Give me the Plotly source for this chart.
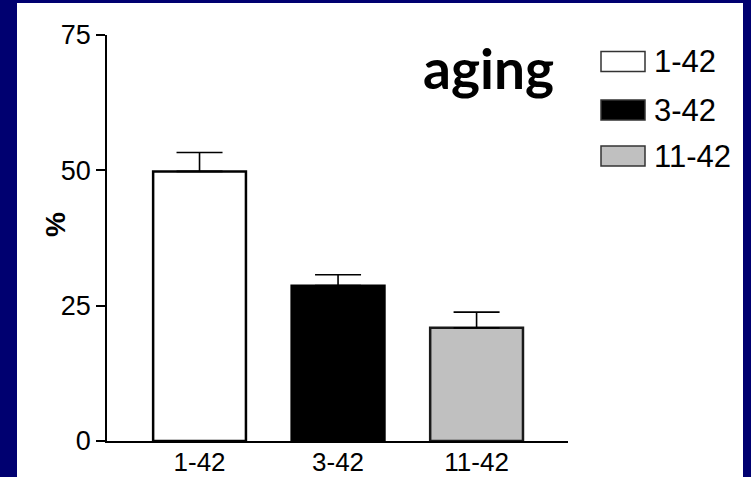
import plotly.graph_objects as go

# Data
categories = ["1-42", "3-42", "11-42"]
values = [49.8, 28.7, 20.9]
errors = [3.5, 2.0, 2.9]
fills = ["#ffffff", "#000000", "#c0c0c0"]
outlines = ["#000000", "#000000", "#1a1a1a"]
y_ticks = [0, 25, 50, 75]

W, H = 751, 477
L, R, T, B = 107, 183, 35, 36
pw, ph = W - L - R, H - T - B


def px(x):
    return (x - L) / pw


def py(y):
    return (H - B - y) / ph


navy = "#000070"
font_main = "Arial, Liberation Sans, sans-serif"

fig = go.Figure()
fig.add_trace(go.Bar(
    x=categories,
    y=values,
    width=0.67,
    marker=dict(color=fills, line=dict(color=outlines, width=2.5)),
    error_y=dict(type="data", array=errors, arrayminus=[0] * len(errors),
                 symmetric=False, color="#000000", thickness=1.6, width=23),
    showlegend=False,
))

shapes = [
    # white slide panel on the navy frame
    dict(type="rect", xref="paper", yref="paper", layer="below",
         x0=px(17), x1=px(743), y0=py(3), y1=py(H + 5),
         fillcolor="#ffffff", line=dict(width=0)),
]
annotations = [
    dict(text="<b>aging</b>", xref="paper", yref="paper", x=px(488), y=py(68),
         xanchor="center", yanchor="middle", showarrow=False,
         font=dict(family="Lato, Noto Sans, sans-serif", size=55, color="#000000")),
    dict(text="<b>%</b>", xref="paper", yref="paper", x=px(55), y=py(225),
         xanchor="center", yanchor="middle", showarrow=False, textangle=-90,
         font=dict(family=font_main, size=28, color="#000000")),
]

# legend rows
row_y = [61.5, 110, 156]
for cat, fc, lc, ry in zip(categories, fills, outlines, row_y):
    shapes.append(dict(type="rect", xref="paper", yref="paper",
                       x0=px(601), x1=px(645), y0=py(ry - 10), y1=py(ry + 10),
                       fillcolor=fc, line=dict(color="#333333", width=1.5)))
    annotations.append(dict(text=cat, xref="paper", yref="paper",
                            x=px(652), y=py(ry), xanchor="left", yanchor="middle",
                            showarrow=False,
                            font=dict(family=font_main, size=31, color="#000000")))

fig.update_layout(
    width=W, height=H,
    margin=dict(l=L, r=R, t=T, b=B, pad=0, autoexpand=False),
    paper_bgcolor=navy,
    plot_bgcolor="rgba(0,0,0,0)",
    shapes=shapes,
    annotations=annotations,
    xaxis=dict(range=[-0.668, 2.66], showline=True, linecolor="#000000",
               linewidth=1.6, ticks="", showgrid=False, zeroline=False,
               automargin=False, ticklabelstandoff=-3,
               tickfont=dict(family=font_main, size=26, color="#000000")),
    yaxis=dict(range=[0, 75], tickvals=y_ticks, showline=True,
               linecolor="#000000", linewidth=1.6, ticks="outside",
               ticklen=9, tickwidth=1.6, tickcolor="#000000",
               showgrid=False, zeroline=False, automargin=False,
               tickfont=dict(family=font_main, size=27, color="#000000")),
)

fig.write_html("out.html")
